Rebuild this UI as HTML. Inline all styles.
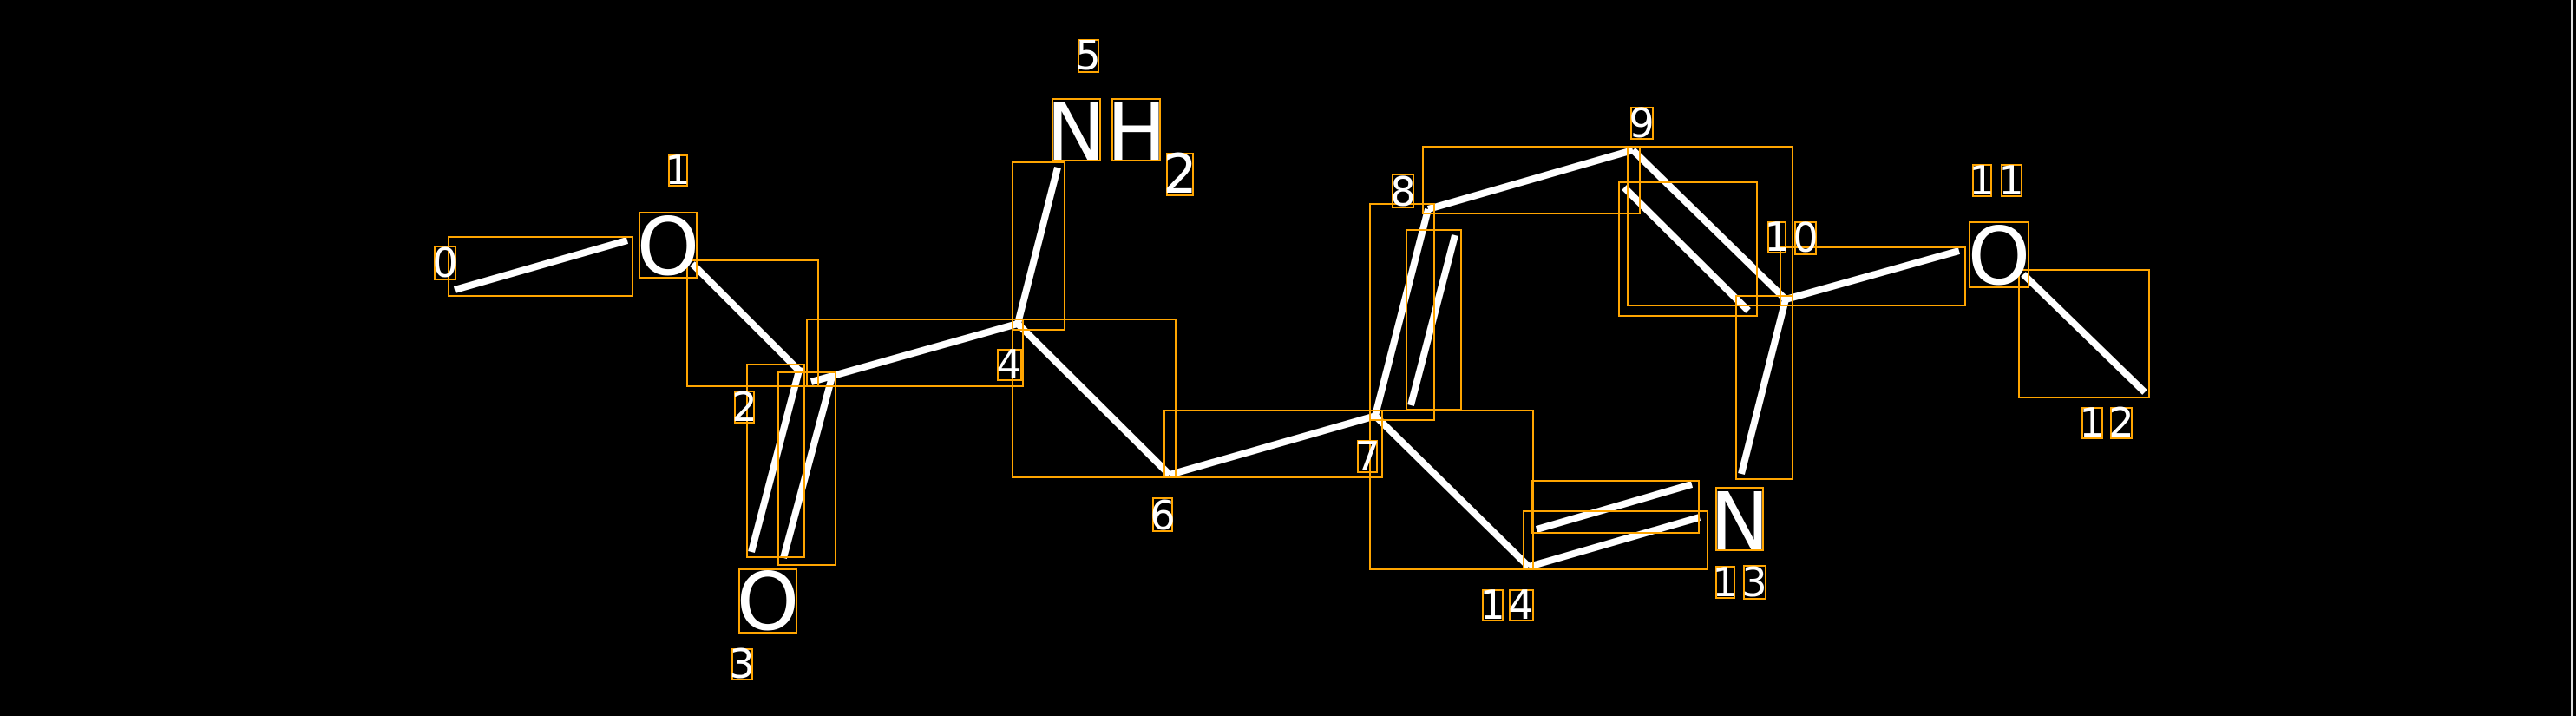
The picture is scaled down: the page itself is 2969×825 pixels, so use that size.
<!DOCTYPE html>
<html><head><style>html,body{margin:0;padding:0;background:#000}svg{display:block}</style></head>
<body>
<svg width="2969" height="825" viewBox="0 0 2969 825" xmlns="http://www.w3.org/2000/svg">
<rect width="2969" height="825" fill="#000"/>
<line x1="2964" y1="0" x2="2964" y2="825" stroke="#ddd" stroke-width="2"/>
<g stroke="#fff" stroke-width="8">
<line x1="524" y1="334" x2="723" y2="277"/>
<line x1="798" y1="304" x2="922" y2="428"/>
<line x1="866" y1="636" x2="922" y2="423"/>
<line x1="903" y1="643" x2="959" y2="434"/>
<line x1="935" y1="440" x2="1173" y2="373"/>
<line x1="1173" y1="373" x2="1219" y2="193"/>
<line x1="1173" y1="373" x2="1348" y2="547"/>
<line x1="1348" y1="547" x2="1586" y2="479"/>
<line x1="1585" y1="479" x2="1646" y2="241"/>
<line x1="1626" y1="467" x2="1677" y2="271"/>
<line x1="1646" y1="241" x2="1882" y2="173"/>
<line x1="1882" y1="173" x2="2058" y2="345"/>
<line x1="1872" y1="216" x2="2015" y2="358"/>
<line x1="2058" y1="345" x2="2258" y2="289"/>
<line x1="2058" y1="345" x2="2007" y2="546"/>
<line x1="2332" y1="316" x2="2472" y2="452"/>
<line x1="1585" y1="479" x2="1762" y2="653"/>
<line x1="1762" y1="653" x2="1959" y2="596"/>
<line x1="1771" y1="610" x2="1950" y2="558"/>
</g>
<g fill="none" stroke="#FFA500" stroke-width="2">
<rect x="517" y="273" width="212" height="68"/>
<rect x="792" y="300" width="151" height="145"/>
<rect x="861" y="420" width="66" height="222"/>
<rect x="897" y="429" width="66" height="222"/>
<rect x="930" y="368" width="249" height="77"/>
<rect x="1167" y="187" width="60" height="193"/>
<rect x="1167" y="368" width="188" height="182"/>
<rect x="1342" y="473" width="251" height="77"/>
<rect x="1579" y="235" width="74" height="249"/>
<rect x="1621" y="265" width="63" height="207"/>
<rect x="1640" y="169" width="250" height="77"/>
<rect x="1876" y="169" width="190" height="183"/>
<rect x="1866" y="210" width="159" height="154"/>
<rect x="2052" y="285" width="213" height="67"/>
<rect x="2001" y="341" width="65" height="211"/>
<rect x="2327" y="311" width="150" height="147"/>
<rect x="1579" y="473" width="188" height="183"/>
<rect x="1756" y="589" width="212" height="67"/>
<rect x="1765" y="554" width="193" height="60"/>
<rect x="737" y="245" width="66" height="75"/>
<rect x="852" y="656" width="66" height="73"/>
<rect x="1213" y="114" width="55" height="71"/>
<rect x="1282" y="114" width="55" height="71"/>
<rect x="2270" y="256" width="68" height="75"/>
<rect x="1978" y="562" width="54" height="72"/>
<rect x="501" y="284" width="24" height="38"/>
<rect x="771" y="179" width="21" height="35"/>
<rect x="847" y="451" width="22" height="36"/>
<rect x="844" y="748" width="23" height="35"/>
<rect x="1150" y="403" width="27" height="35"/>
<rect x="1243" y="46" width="23" height="37"/>
<rect x="1345" y="177" width="30" height="48"/>
<rect x="1329" y="574" width="22" height="38"/>
<rect x="1565" y="508" width="22" height="36"/>
<rect x="1605" y="201" width="24" height="38"/>
<rect x="1880" y="124" width="25" height="36"/>
<rect x="2038" y="256" width="20" height="35"/>
<rect x="2069" y="256" width="24" height="37"/>
<rect x="2274" y="190" width="21" height="36"/>
<rect x="2307" y="190" width="23" height="36"/>
<rect x="2400" y="470" width="23" height="35"/>
<rect x="2433" y="470" width="24" height="35"/>
<rect x="1978" y="653" width="21" height="36"/>
<rect x="2010" y="652" width="25" height="38"/>
<rect x="1709" y="680" width="23" height="35"/>
<rect x="1740" y="680" width="27" height="35"/>
</g>
<g fill="#fff" font-family="'DejaVu Sans','Liberation Sans',sans-serif" text-anchor="middle">
<g font-size="92">
<text x="770" y="316">O</text>
<text x="885" y="725">O</text>
<text x="1240" y="184">N</text>
<text x="1310" y="184">H</text>
<text x="2304" y="327">O</text>
<text x="2005" y="633">N</text>
</g>
<g font-size="46">
<text x="513" y="319">0</text>
<text x="781" y="212">1</text>
<text x="858" y="485">2</text>
<text x="855" y="781">3</text>
<text x="1163" y="436">4</text>
<text x="1254" y="80">5</text>
<text x="1340" y="610">6</text>
<text x="1576" y="542">7</text>
<text x="1617" y="237">8</text>
<text x="1892" y="158">9</text>
<text x="2048" y="289">1</text>
<text x="2081" y="290">0</text>
<text x="2284" y="224">1</text>
<text x="2318" y="224">1</text>
<text x="2411" y="503">1</text>
<text x="2445" y="503">2</text>
<text x="1988" y="687">1</text>
<text x="2022" y="687">3</text>
<text x="1720" y="713">1</text>
<text x="1753" y="713">4</text>
</g>
<text x="1360" y="222" font-size="62">2</text>
</g>
</svg>
</body></html>
